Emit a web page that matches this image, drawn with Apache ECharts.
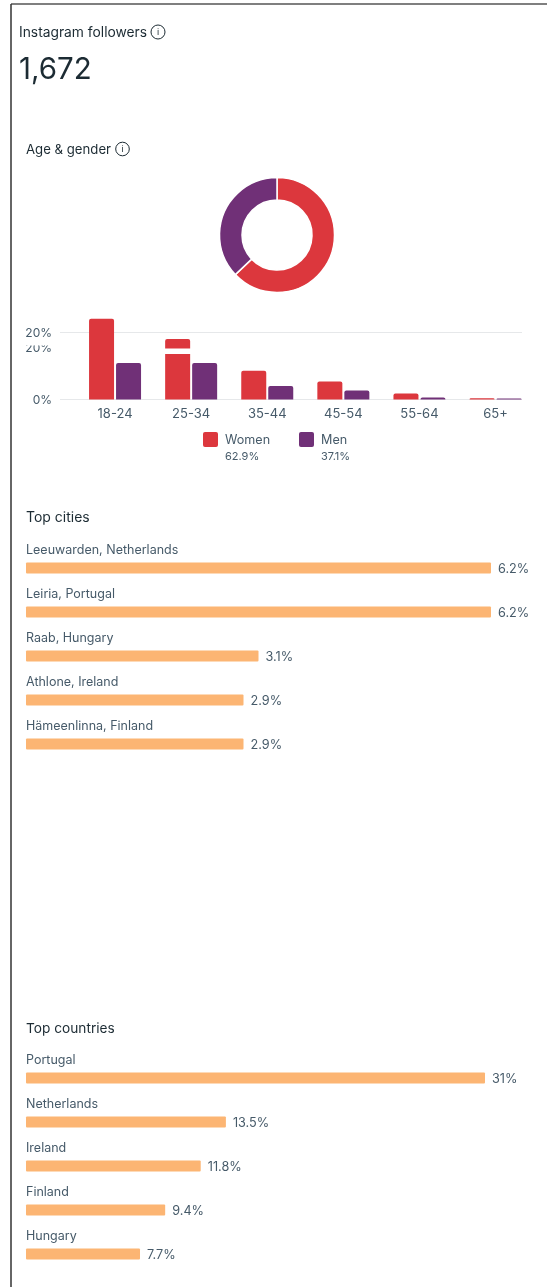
<!DOCTYPE html>
<html>
<head>
<meta charset="utf-8">
<title>Instagram followers</title>
<style>
  html, body { margin: 0; padding: 0; background: #fff; }
  #chart { width: 547px; height: 1287px; }
</style>
<script src="https://cdn.jsdelivr.net/npm/echarts@6/dist/echarts.min.js"></script>
</head>
<body>
<div id="chart"></div>
<script>
const ageGroups = ['18-24', '25-34', '35-44', '45-54', '55-64', '65+']
const womenByAge = [23.9, 17.9, 8.5, 5.3, 1.8, 0.4]
const menByAge = [10.8, 10.8, 4.0, 2.7, 0.6, 0.3]
const genderNames = ['Women', 'Men']
const genderShares = [62.9, 37.1]
const cityNames = ['Leeuwarden, Netherlands', 'Leiria, Portugal', 'Raab, Hungary', 'Athlone, Ireland', 'Hämeenlinna, Finland']
const cityValues = [6.2, 6.2, 3.1, 2.9, 2.9]
const countryNames = ['Portugal', 'Netherlands', 'Ireland', 'Finland', 'Hungary']
const countryValues = [31, 13.5, 11.8, 9.4, 7.7]

const FONT = 'Inter, "Noto Sans", sans-serif'
const RED = '#dc373d'
const PURPLE = '#703077'
const ORANGE = '#fcb573'
const DARK = '#1c2b33'
const MUTED = '#465a69'

const label = (text, x, y, size, fill, extra) => ({
  type: 'text', z: 110,
  style: { text, x, y, fill, font: `${size}px ${FONT}`, textVerticalAlign: 'middle', ...extra },
})
const infoIcon = (cx, cy, r) => [
  { type: 'circle', z: 110, shape: { cx, cy, r }, style: { fill: 'none', stroke: DARK, lineWidth: 1 } },
  label('i', cx, cy + 0.5, 9, DARK, { textAlign: 'center' }),
]
const legendItem = (i, x) => [
  { type: 'rect', z: 110, shape: { x, y: 432, width: 15, height: 15, r: 2 }, style: { fill: [RED, PURPLE][i] } },
  label(genderNames[i], x + 22, 440, 12.6, MUTED),
  label(genderShares[i] + '%', x + 22, 456.5, 11, MUTED),
]

const graphic = [
  // frame edge of the screenshot
  { type: 'line', shape: { x1: 11, y1: 4, x2: 547, y2: 4 }, style: { stroke: '#555', lineWidth: 1.5 } },
  { type: 'line', shape: { x1: 11, y1: 4, x2: 11, y2: 1287 }, style: { stroke: '#333', lineWidth: 1.5 } },
  label('Instagram followers', 19, 33, 13.8, DARK),
  ...infoIcon(158, 32, 7),
  label('1,672', 19, 70, 29.5, DARK),
  label('Age & gender', 26, 150, 13.2, DARK),
  ...infoIcon(122.5, 149, 6.8),
  // cut-off duplicate axis label and white band from the original capture
  label('20%', 52, 348, 12, MUTED, { textAlign: 'right' }),
  { type: 'rect', z: 111, shape: { x: 22, y: 339, width: 34, height: 6.5 }, style: { fill: '#fff' } },
  { type: 'rect', z: 111, shape: { x: 160, y: 348.5, width: 34, height: 5.5 }, style: { fill: '#fff' } },
  ...legendItem(0, 203),
  ...legendItem(1, 299),
  label('Top cities', 26, 518, 14, DARK),
  label('Top countries', 26, 1029, 13.7, DARK),
]

const rowAxis = (names, gridIndex) => ({
  type: 'category', gridIndex, data: names, inverse: true,
  axisLine: { show: false }, axisTick: { show: false },
  axisLabel: {
    inside: true, margin: 0, align: 'left', verticalAlign: 'bottom',
    padding: [0, 0, 11, 0], color: MUTED, fontFamily: FONT, fontSize: 12.5,
  },
})
const rowValueAxis = (max, gridIndex) => ({ type: 'value', gridIndex, min: 0, max, show: false })
const rowSeries = (values, axisIndex) => ({
  type: 'bar', xAxisIndex: axisIndex, yAxisIndex: axisIndex, data: values, barWidth: 11,
  itemStyle: { color: ORANGE, borderRadius: 1 },
  label: {
    show: true, position: 'right', distance: 7, offset: [0, 1], formatter: (p) => p.value + '%',
    color: MUTED, fontFamily: FONT, fontSize: 12.7,
  },
})

const chart = echarts.init(document.getElementById('chart'), null, { renderer: 'canvas' })
chart.setOption({
  animation: false,
  backgroundColor: '#fff',
  textStyle: { fontFamily: FONT },
  graphic,
  grid: [
    { left: 60, width: 462, top: 332, height: 67.5 },   // gridlines and % labels
    { left: 77, width: 456.6, top: 315.125, height: 84.375 }, // age bars
    { left: 26, width: 465, top: 546, height: 220 },    // cities
    { left: 26, width: 459, top: 1056, height: 220 },   // countries
  ],
  xAxis: [
    { type: 'value', gridIndex: 0, min: 0, max: 1, show: false },
    {
      type: 'category', gridIndex: 1, data: ageGroups,
      axisLine: { show: false }, axisTick: { show: false },
      axisLabel: { color: MUTED, fontFamily: FONT, fontSize: 13, margin: 8 },
    },
    rowValueAxis(6.2, 2),
    rowValueAxis(31, 3),
  ],
  yAxis: [
    {
      type: 'value', gridIndex: 0, min: 0, max: 20, interval: 20,
      axisLine: { show: false }, axisTick: { show: false },
      axisLabel: {
        color: MUTED, fontFamily: FONT, fontSize: 12, margin: 8, verticalAlign: 'top',
        lineHeight: 14, padding: [-6, 0, 0, 0], formatter: '{value}%',
      },
      splitLine: { lineStyle: { color: '#e6e8ea', width: 1 } },
    },
    { type: 'value', gridIndex: 1, min: 0, max: 25, show: false },
    rowAxis(cityNames, 2),
    rowAxis(countryNames, 3),
  ],
  series: [
    {
      type: 'pie', center: [277, 235], radius: [35, 57.5], startAngle: 90, clockwise: true,
      label: { show: false }, labelLine: { show: false }, silent: true,
      itemStyle: { borderColor: '#fff', borderWidth: 1.5 },
      data: genderNames.map((name, i) => ({ name, value: genderShares[i], itemStyle: { color: [RED, PURPLE][i] } })),
    },
    {
      type: 'bar', name: genderNames[0], xAxisIndex: 1, yAxisIndex: 1, data: womenByAge,
      barWidth: 25, barGap: '8%', itemStyle: { color: RED, borderRadius: [2, 2, 0, 0] },
    },
    {
      type: 'bar', name: genderNames[1], xAxisIndex: 1, yAxisIndex: 1, data: menByAge,
      barWidth: 25, itemStyle: { color: PURPLE, borderRadius: [2, 2, 0, 0] },
    },
    rowSeries(cityValues, 2),
    rowSeries(countryValues, 3),
  ],
})
</script>
</body>
</html>
